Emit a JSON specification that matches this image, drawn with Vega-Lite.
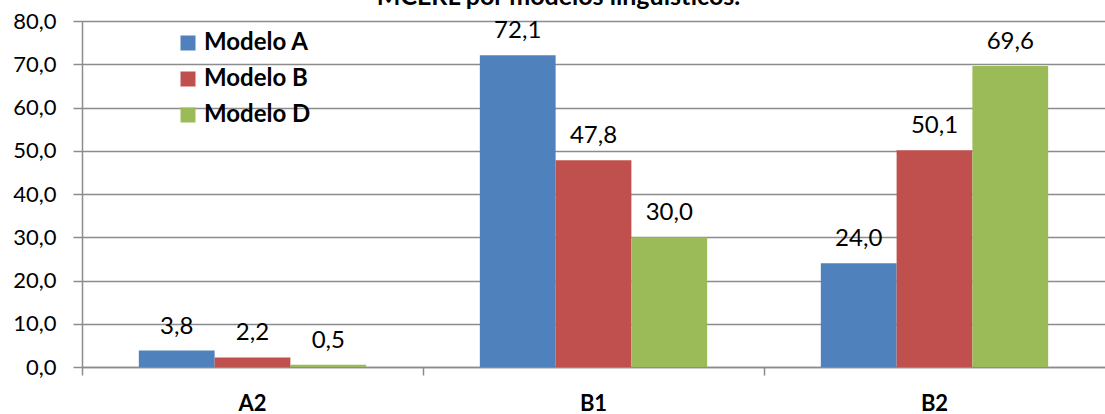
{
  "$schema": "https://vega.github.io/schema/vega-lite/v6.json",
  "autosize": "none",
  "width": 1023,
  "height": 346,
  "padding": {"left": 82, "top": 21, "right": 0, "bottom": 47},
  "title": {
    "text": "MCERL por modelos linguísticos.",
    "font": "Lato",
    "fontSize": 25,
    "fontWeight": "bold",
    "color": "#000000",
    "anchor": "middle",
    "dx": -35,
    "offset": -20,
    "baseline": "alphabetic"
  },
  "data": {
    "values": [
      {"nivel": "A2", "modelo": "Modelo A", "valor": 3.8},
      {"nivel": "A2", "modelo": "Modelo B", "valor": 2.2},
      {"nivel": "A2", "modelo": "Modelo D", "valor": 0.5},
      {"nivel": "B1", "modelo": "Modelo A", "valor": 72.1},
      {"nivel": "B1", "modelo": "Modelo B", "valor": 47.8},
      {"nivel": "B1", "modelo": "Modelo D", "valor": 30.0},
      {"nivel": "B2", "modelo": "Modelo A", "valor": 24.0},
      {"nivel": "B2", "modelo": "Modelo B", "valor": 50.1},
      {"nivel": "B2", "modelo": "Modelo D", "valor": 69.6}
    ]
  },
  "encoding": {
    "x": {
      "field": "nivel",
      "type": "nominal",
      "scale": {"paddingInner": 0, "paddingOuter": 0},
      "axis": {
        "title": null,
        "labelAngle": 0,
        "labelFont": "Lato",
        "labelFontSize": 22,
        "labelFontWeight": "bold",
        "labelColor": "#000000",
        "labelPadding": 18,
        "tickSize": 8,
        "tickColor": "#8c8c8c",
        "tickWidth": 1.5,
        "bandPosition": 0,
        "domainColor": "#8c8c8c",
        "domainWidth": 1.5,
        "grid": false
      }
    },
    "xOffset": {
      "field": "modelo",
      "type": "nominal",
      "scale": {"paddingInner": 0, "paddingOuter": 0.75}
    }
  },
  "layer": [
    {
      "mark": {"type": "bar"},
      "encoding": {
        "y": {
          "field": "valor",
          "type": "quantitative",
          "scale": {"domain": [0, 80], "nice": false},
          "axis": {
            "title": null,
            "values": [0, 10, 20, 30, 40, 50, 60, 70, 80],
            "format": ".1f",
            "labelFont": "Lato",
            "labelFontSize": 22,
            "labelColor": "#000000",
            "labelPadding": 17,
            "tickSize": 9,
            "tickColor": "#8c8c8c",
            "tickWidth": 1.5,
            "domainColor": "#8c8c8c",
            "domainWidth": 1.5,
            "gridColor": "#8c8c8c",
            "gridWidth": 1.5
          }
        },
        "color": {
          "field": "modelo",
          "type": "nominal",
          "scale": {"range": ["#4F81BD", "#C0504D", "#9BBB59"]},
          "legend": {
            "title": null,
            "orient": "none",
            "legendX": 94,
            "legendY": 10,
            "symbolType": "square",
            "symbolSize": 225,
            "symbolStrokeWidth": 0,
            "symbolOpacity": 1,
            "labelFont": "Lato",
            "labelFontSize": 24,
            "labelFontWeight": "bold",
            "labelColor": "#000000",
            "labelOffset": 4,
            "rowPadding": 12
          }
        }
      }
    },
    {
      "mark": {
        "type": "text",
        "baseline": "alphabetic",
        "dy": -17,
        "font": "Lato",
        "fontSize": 24,
        "color": "#000000"
      },
      "encoding": {
        "y": {"field": "valor", "type": "quantitative"},
        "text": {"field": "valor", "type": "quantitative", "format": ".1f"}
      }
    }
  ],
  "config": {
    "locale": {
      "number": {
        "decimal": ",",
        "thousands": ".",
        "grouping": [3],
        "currency": ["", " €"]
      }
    },
    "view": {"stroke": null},
    "background": "#ffffff"
  }
}
